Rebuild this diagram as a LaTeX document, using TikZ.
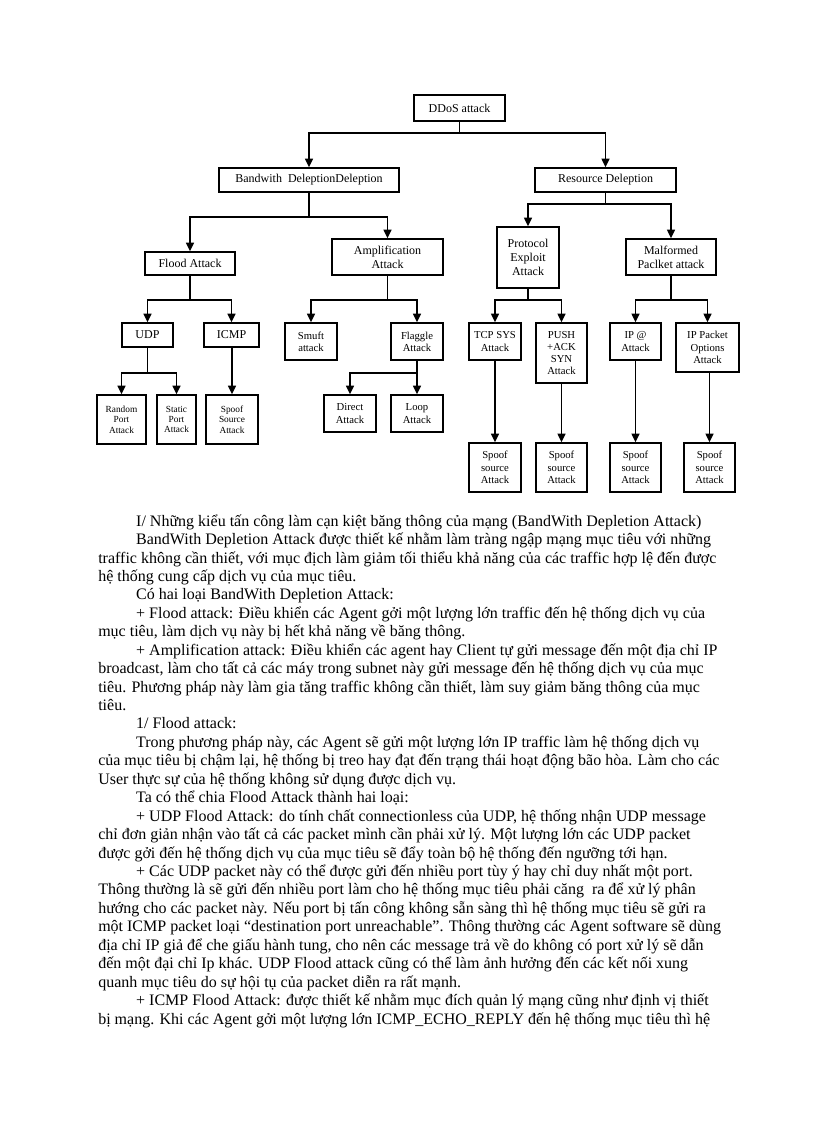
\documentclass[tikz,border=0pt]{standalone}
\usepackage{fontspec}
\setmainfont{Liberation Serif}
\usepackage{tikz}
\usetikzlibrary{positioning, arrows.meta, calc}
\tikzset{boxsize/.style 2 args={minimum width=#1*0.75pt, minimum height=#2*0.75pt}}

\begin{document}
\begin{tikzpicture}[
    x=0.75pt, y=-0.75pt,
    every node/.style={align=center, inner sep=1pt},
    box/.style  ={draw=black, fill=white, line width=1.2pt, font=\fontsize{9}{10.5}\selectfont},
    mbox/.style ={box, font=\fontsize{8}{9.2}\selectfont},
    sbox/.style ={box, font=\fontsize{7}{7.8}\selectfont},
    arrow/.style={-{Triangle[width=6pt,length=6.5pt]}, line width=1.2pt, draw=black}
]
\useasboundingbox (0,0) rectangle (816,1123);

% Row 1: root and its two branches
\node[box, boxsize={91}{26}]  (ddos) at (459.5,108) {DDoS attack};
\node[box, boxsize={180}{24}] (bw)   at (309,180)   {Bandwith\ \ DeleptionDeleption};
\node[box, boxsize={141}{24}] (res)  at (605.5,180) {Resource Deleption};

% Row 2: attack families
\node[box, boxsize={90}{23}]  (flood) at (190,263.5) {Flood Attack};
\node[box, boxsize={111}{36}] (ampl)  at (387.5,257) {Amplification\\Attack};
\node[box, boxsize={62}{61}]  (proto) at (528,257.5) {Protocol\\Exploit\\Attack};
\node[box, boxsize={90}{36}]  (malf)  at (671,257)   {Malformed\\Paclket attack};

% Row 3: attack kinds
\node[box,  boxsize={51}{24}] (udp)     at (147.5,335) {UDP};
\node[box,  boxsize={55}{24}] (icmp)    at (231.5,335) {ICMP};
\node[mbox, boxsize={52}{37}] (smuft)   at (311,341.5) {Smuft\\attack};
\node[mbox, boxsize={52}{37}] (flaggle) at (417,341.5) {Flaggle\\Attack};
\node[mbox, boxsize={52}{37}] (tcpsys)  at (495,341.5) {TCP SYS\\Attack};
\node[mbox, boxsize={51}{60}] (push)    at (561.5,353) {PUSH\\+ACK\\SYN\\Attack};
\node[mbox, boxsize={51}{37}] (ipat)    at (635.5,341.5) {IP @\\Attack};
\node[mbox, boxsize={63}{49}] (ipopt)   at (707.5,347.5) {IP Packet\\Options\\Attack};

% Row 4: leaves
\node[sbox, boxsize={49}{49}] (randport) at (121.5,419.5) {Random\\Port\\Attack};
\node[sbox, boxsize={39}{49}] (statport) at (176.5,419.5) {Static\\Port\\Attack};
\node[sbox, boxsize={52}{49}] (spoofsrc) at (232,419.5)   {Spoof\\Source\\Attack};
\node[mbox, boxsize={52}{37}] (direct)   at (350,413.5)   {Direct\\Attack};
\node[mbox, boxsize={52}{37}] (loop)     at (417,413.5)   {Loop\\Attack};

% Row 5: spoofed sources
\node[mbox, boxsize={52}{49}] (spoofa) at (495,467.5)   {Spoof\\source\\Attack};
\node[mbox, boxsize={51}{49}] (spoofb) at (561.5,467.5) {Spoof\\source\\Attack};
\node[mbox, boxsize={51}{49}] (spoofc) at (635.5,467.5) {Spoof\\source\\Attack};
\node[mbox, boxsize={51}{49}] (spoofd) at (709.5,467.5) {Spoof\\source\\Attack};

% Arrows
\draw[arrow] (ddos.south) -- ++(0,11) -| (bw.north);
\draw[arrow] (ddos.south) -- ++(0,11) -| (res.north);
\draw[arrow] (bw.south) -- ++(0,24) -| (flood.north);
\draw[arrow] (bw.south) -- ++(0,24) -| (ampl.north);
\draw[arrow] (res.south) -- ++(0,11) -| (proto.north);
\draw[arrow] (res.south) -- ++(0,11) -| (malf.north);
\draw[arrow] (flood.south) -- ++(0,24) -| (udp.north);
\draw[arrow] (flood.south) -- ++(0,24) -| (icmp.north);
\draw[arrow] (ampl.south) -- ++(0,24) -| (smuft.north);
\draw[arrow] (ampl.south) -- ++(0,24) -| (flaggle.north);
\draw[arrow] (proto.south) -- ++(0,11) -| (tcpsys.north);
\draw[arrow] (proto.south) -- ++(0,11) -| (push.north);
\draw[arrow] (malf.south) -- ++(0,24) -| (ipat.north);
\draw[arrow] (malf.south) -- ++(0,24) -| (ipopt.north);
\draw[arrow] (udp.south) -- ++(0,25) -| (randport.north);
\draw[arrow] (udp.south) -- ++(0,25) -| (statport.north);
\draw[arrow] (icmp.south -| spoofsrc.north) -- (spoofsrc.north);
\draw[arrow] (flaggle.south) -- ++(0,12) -| (direct.north);
\draw[arrow] (flaggle) -- (loop);
\draw[arrow] (tcpsys.south -| spoofa.north) -- (spoofa.north);
\draw[arrow] (push) -- (spoofb);
\draw[arrow] (ipat) -- (spoofc);
\draw[arrow] (ipopt.south -| spoofd.north) -- (spoofd.north);

% Body text below the tree (anchored at the baseline of its last line)
\node[anchor=base west, align=left, inner sep=0pt, font=\fontsize{12}{13.83}\selectfont] (body) at (98,1024) {%
\hspace*{1cm}I/ Những kiểu tấn công làm cạn kiệt băng thông của mạng (BandWith Depletion Attack)\\
\hspace*{1cm}BandWith Depletion Attack được thiết kế nhằm làm tràng ngập mạng mục tiêu với những\\
traffic không cần thiết, với mục địch làm giảm tối thiểu khả năng của các traffic hợp lệ đến được\\
hệ thống cung cấp dịch vụ của mục tiêu.\\
\hspace*{1cm}Có hai loại BandWith Depletion Attack:\\
\hspace*{1cm}+ Flood attack: Điều khiển các Agent gởi một lượng lớn traffic đến hệ thống dịch vụ của\\
mục tiêu, làm dịch vụ này bị hết khả năng về băng thông.\\
\hspace*{1cm}+ Amplification attack: Điều khiển các agent hay Client tự gửi message đến một địa chỉ IP\\
broadcast, làm cho tất cả các máy trong subnet này gửi message đến hệ thống dịch vụ của mục\\
tiêu. Phương pháp này làm gia tăng traffic không cần thiết, làm suy giảm băng thông của mục\\
tiêu.\\
\hspace*{1cm}1/ Flood attack:\\
\hspace*{1cm}Trong phương pháp này, các Agent sẽ gửi một lượng lớn IP traffic làm hệ thống dịch vụ\\
của mục tiêu bị chậm lại, hệ thống bị treo hay đạt đến trạng thái hoạt động bão hòa. Làm cho các\\
User thực sự của hệ thống không sử dụng được dịch vụ.\\
\hspace*{1cm}Ta có thể chia Flood Attack thành hai loại:\\
\hspace*{1cm}+ UDP Flood Attack: do tính chất connectionless của UDP, hệ thống nhận UDP message\\
chỉ đơn giản nhận vào tất cả các packet mình cần phải xử lý. Một lượng lớn các UDP packet\\
được gởi đến hệ thống dịch vụ của mục tiêu sẽ đẩy toàn bộ hệ thống đến ngưỡng tới hạn.\\
\hspace*{1cm}+ Các UDP packet này có thể được gửi đến nhiều port tùy ý hay chỉ duy nhất một port.\\
Thông thường là sẽ gửi đến nhiều port làm cho hệ thống mục tiêu phải căng\ \ ra để xử lý phân\\
hướng cho các packet này. Nếu port bị tấn công không sẵn sàng thì hệ thống mục tiêu sẽ gửi ra\\
một ICMP packet loại “destination port unreachable”. Thông thường các Agent software sẽ dùng\\
địa chỉ IP giả để che giấu hành tung, cho nên các message trả về do không có port xử lý sẽ dẫn\\
đến một đại chỉ Ip khác. UDP Flood attack cũng có thể làm ảnh hưởng đến các kết nối xung\\
quanh mục tiêu do sự hội tụ của packet diễn ra rất mạnh.\\
\hspace*{1cm}+ ICMP Flood Attack: được thiết kế nhằm mục đích quản lý mạng cũng như định vị thiết\\
bị mạng. Khi các Agent gởi một lượng lớn ICMP\_ECHO\_REPLY đến hệ thống mục tiêu thì hệ};

\end{tikzpicture}
\end{document}
